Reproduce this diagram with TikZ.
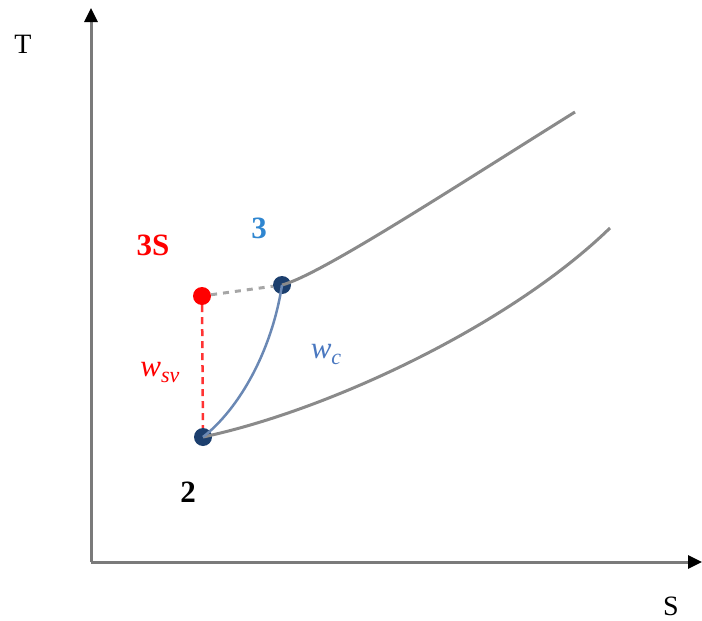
\documentclass[tikz,border=0pt]{standalone}
\usepackage{fontspec}
\setmainfont{Liberation Serif}
\usetikzlibrary{arrows.meta}
\definecolor{navy}{HTML}{1C3F6E}
\definecolor{lblue}{HTML}{2F86D0}
\definecolor{wblue}{HTML}{4A78C0}
\definecolor{cblue}{HTML}{6A88B4}
\definecolor{curvegray}{HTML}{8A8A8A}
\definecolor{axisgray}{HTML}{7A7A7A}
\tikzset{
  axis/.style={draw=axisgray, line width=3pt, -{Triangle[length=14pt,width=13pt,color=black,fill=black]}},
  dot/.style={circle, fill=#1, minimum size=18pt, inner sep=0pt},
  curve/.style={draw=curvegray, line width=3pt},
  lbl/.style={font=\fontsize{31}{33}\selectfont},
}
\begin{document}
\begin{tikzpicture}[x=1pt,y=-1pt]
\useasboundingbox (0,0) rectangle (702,621);
\coordinate (O) at (91,562);
\coordinate (Ty) at (91,8);
\coordinate (Sx) at (702,562);
\draw[axis] (O) -- (Ty);
\draw[axis] (O) -- (Sx);
\node[font=\fontsize{28}{30}\selectfont] (T) at (23,44) {T};
\node[font=\fontsize{28}{30}\selectfont] (S) at (671,606) {S};

\node[dot=navy] (p2) at (203,437) {};
\node[dot=navy] (p3) at (282,285) {};
\node[dot=red] (p3s) at (202,296) {};

\draw[curve] (p3.center) .. controls (320,275) and (450,190) .. (575,112);
\draw[curve] (p2.center) .. controls (330,410) and (510,325) .. (610,228);
\draw[cblue, line width=2.5pt] (p2.center) .. controls (240,408) and (272,350) .. (p3.center);
\draw[gray!70, line width=3pt, dash pattern=on 6pt off 6pt] (p3s) -- (p3);
\draw[red!80, line width=2.5pt, dash pattern=on 7pt off 5pt] (p3s) -- (p2);

\node[lbl, text=red, font=\fontsize{31}{33}\selectfont\bfseries] (l3s) at (153,245) {3S};
\node[lbl, text=lblue, font=\fontsize{31}{33}\selectfont\bfseries] (l3) at (259,228) {3};
\node[lbl, font=\fontsize{31}{33}\selectfont\bfseries] (l2) at (188,492) {2};
\node[lbl, text=red] (lwsv) at (160,372) {\textit{w}\raisebox{-6pt}{\fontsize{22}{24}\selectfont\textit{sv}}};
\node[lbl, text=wblue] (lwc) at (326,354) {\textit{w}\raisebox{-6pt}{\fontsize{22}{24}\selectfont\textit{c}}};
\end{tikzpicture}
\end{document}
